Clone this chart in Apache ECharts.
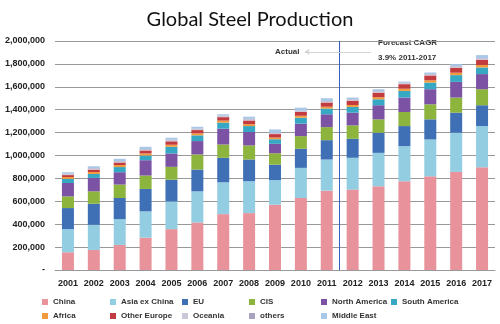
<!DOCTYPE html>
<html><head><meta charset="utf-8">
<script src="https://cdn.jsdelivr.net/npm/echarts@6/dist/echarts.min.js"></script>
<style>html,body{margin:0;padding:0;background:#fff}#c{width:500px;height:324px}</style>
</head><body><div id="c"></div>
<script>
const years = ['2001','2002','2003','2004','2005','2006','2007','2008','2009','2010','2011','2012','2013','2014','2015','2016','2017'];
const china        = [155,175,219,283,357,415,488,497,570,629,693,702,731,775,818,857,897].map(v=>v*1000);
const asiaExChina  = [202,220,225,229,242,272,278,278,215,263,272,278,292,307,322,342,360].map(v=>v*1000);
const eu           = [184,184,185,196,190,190,214,190,135,167,169,166,176,175,176,175,182].map(v=>v*1000);
const cis          = [102,108,117,117,112,132,116,123,100,110,114,117,117,123,131,132,140].map(v=>v*1000);
const northAmerica = [117,117,108,134,117,117,138,117, 82,109,112,111,123,126,132,137,132].map(v=>v*1000);
const southAmerica = [ 36, 35, 45, 41, 58, 50, 53, 52, 40, 52, 50, 50, 52, 58, 58, 59, 58].map(v=>v*1000);
const africa       = [ 16, 17, 18, 18, 18, 18, 18, 17, 15, 17, 16, 17, 18, 19, 20, 21, 22].map(v=>v*1000);
const otherEurope  = [ 17, 21, 22, 26, 30, 28, 30, 32, 30, 33, 37, 38, 40, 40, 42, 44, 46].map(v=>v*1000);
const oceania      = [  8,  8,  8,  8,  9,  8,  8,  9,  6,  8,  8,  8,  8,  8,  8,  8,  8].map(v=>v*1000);
const others       = [  4,  5,  5,  5,  5,  5,  5,  5,  5,  5,  5,  5,  5,  5,  5,  5,  5].map(v=>v*1000);
const middleEast   = [ 13, 16, 19, 19, 17, 16, 12, 19, 30, 25, 24, 14, 17, 10, 13, 18, 27].map(v=>v*1000);
const yTicks = [0,200000,400000,600000,800000,1000000,1200000,1400000,1600000,1800000,2000000];

const seriesDefs = [
  ['China', china, '#e8939b'],
  ['Asia ex China', asiaExChina, '#93cde2'],
  ['EU', eu, '#3f70b6'],
  ['CIS', cis, '#8db43c'],
  ['North America', northAmerica, '#7b52a4'],
  ['South America', southAmerica, '#36a8c4'],
  ['Africa', africa, '#f39a3c'],
  ['Other Europe', otherEurope, '#c23b3f'],
  ['Oceania', oceania, '#cbc6d8'],
  ['others', others, '#a8a2c2'],
  ['Middle East', middleEast, '#a9c7e6']
];

const chart = echarts.init(document.getElementById('c'));
const font = 'Liberation Sans';
const series = seriesDefs.map(([name, data, color]) => ({
  name, type: 'bar', stack: 'total', data, barWidth: 12,
  xAxisIndex: 0, itemStyle: { color }
}));
series.push({
  type: 'line', xAxisIndex: 1, data: [[10.5, 0]], silent: true, clip: false,
  symbol: 'none', lineStyle: { opacity: 0 },
  markLine: {
    silent: true, symbol: ['none','none'], label: { show: false },
    data: [
      [{ coord: [10.5, 0], lineStyle: { color: '#3b5bc4', width: 1, type: 'solid' } }, { coord: [10.5, 2000000] }],
      [{ coord: [9.15, 1906000], symbol: 'arrow', symbolSize: 5, lineStyle: { color: '#d4d4d4', width: 1, type: 'solid' } }, { coord: [11.7, 1906000], symbol: 'none' }]
    ]
  }
});

const legendCols = [
  [42, ['China', 'Africa']],
  [110, ['Asia ex China', 'Other Europe']],
  [182, ['EU', 'Oceania']],
  [249, ['CIS', 'others']],
  [321, ['North America', 'Middle East']],
  [391, ['South America']]
];

chart.setOption({
  animation: false,
  textStyle: { fontFamily: font },
  title: {
    text: 'Global Steel Production', left: 'center', top: 5,
    textStyle: { fontFamily: 'Lato', fontSize: 20, fontWeight: 'normal', color: '#111' }
  },
  grid: { left: 55, right: 5, top: 41, bottom: 54 },
  legend: legendCols.map(([left, data]) => ({
    data, left, top: 297, orient: 'vertical', itemWidth: 6, itemHeight: 6, itemGap: 4,
    padding: 0, icon: 'rect',
    textStyle: { fontSize: 8, fontWeight: 'bold', color: '#333', fontFamily: font, lineHeight: 10 }
  })),
  xAxis: [{
    type: 'category', data: years,
    axisLine: { lineStyle: { color: '#999' } },
    axisTick: { length: 4, lineStyle: { color: '#999' } },
    axisLabel: { interval: 0, fontSize: 9, fontWeight: 'bold', color: '#222', margin: 9, fontFamily: font }
  }, {
    type: 'value', min: -0.5, max: 16.5, show: false
  }],
  yAxis: {
    type: 'value', min: 0, max: 2000000, interval: 200000,
    axisLine: { show: false }, axisTick: { show: false },
    splitLine: { lineStyle: { color: '#999', width: 1 } },
    axisLabel: {
      fontSize: 9, fontWeight: 'bold', color: '#222', margin: 10, fontFamily: font,
      formatter: v => v === 0 ? '-' : v.toLocaleString('en-US')
    }
  },
  graphic: [
    { type: 'text', left: 275, top: 48, style: { text: 'Actual', fontSize: 8, fontWeight: 'bold', fill: '#333', fontFamily: font } },
    { type: 'text', left: 378, top: 39, style: { text: 'Forecast CAGR', fontSize: 8, fontWeight: 'bold', fill: '#333', fontFamily: font } },
    { type: 'text', left: 378, top: 54, style: { text: '3.9% 2011-2017', fontSize: 8, fontWeight: 'bold', fill: '#333', fontFamily: font } }
  ],
  series
});
</script></body></html>
